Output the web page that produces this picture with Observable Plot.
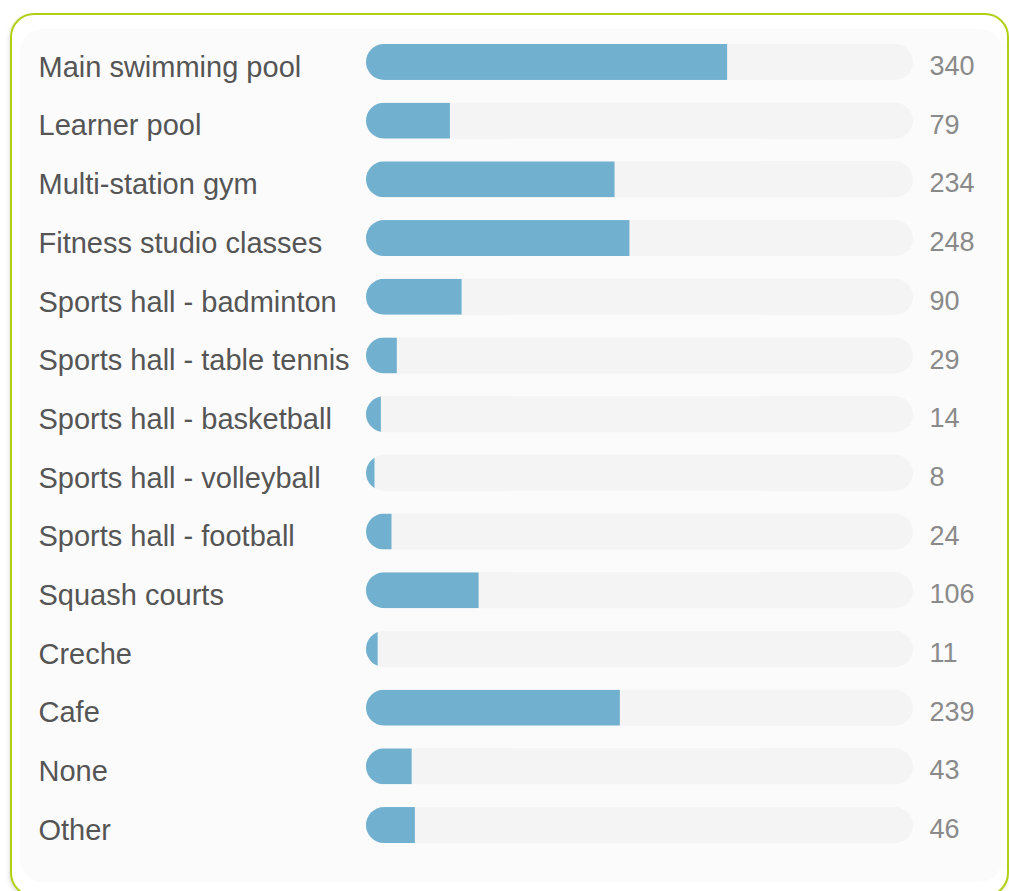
<!DOCTYPE html>
<html>
<head>
<meta charset="utf-8">
<script src="https://cdn.jsdelivr.net/npm/d3@7"></script>
<script src="https://cdn.jsdelivr.net/npm/@observablehq/plot@0.6"></script>
<style>
  html, body { margin: 0; padding: 0; background: #ffffff; }
  body { width: 1009px; height: 891px; position: relative; overflow: hidden; font-family: "Liberation Sans", Arial, Helvetica, sans-serif; }
  #card {
    position: absolute; left: 10px; top: 13px; width: 995px; height: 880px;
    border: 2.5px solid #b2d013; border-radius: 24px; background: #ffffff;
    box-shadow: -1px 2px 4px rgba(0,0,0,0.12);
  }
  #panel {
    position: absolute; left: 20px; top: 29px; width: 982px; height: 853px;
    border-radius: 22px; background: #fbfbfb;
  }
  #chart { position: absolute; left: 0; top: 0; }
</style>
</head>
<body>
<div id="card"></div>
<div id="panel"></div>
<div id="chart"></div>
<script>
const categories = [
  "Main swimming pool",
  "Learner pool",
  "Multi-station gym",
  "Fitness studio classes",
  "Sports hall - badminton",
  "Sports hall - table tennis",
  "Sports hall - basketball",
  "Sports hall - volleyball",
  "Sports hall - football",
  "Squash courts",
  "Creche",
  "Cafe",
  "None",
  "Other"
];
const values = [340, 79, 234, 248, 90, 29, 14, 8, 24, 106, 11, 239, 43, 46];
const scaleMax = 515;

const data = categories.map((c, i) => ({category: c, value: values[i], max: scaleMax}));

const FONT = "Liberation Sans, Arial, Helvetica, sans-serif";
const W = 1009, H = 891;
const chart = Plot.plot({
  width: W,
  height: H,
  marginLeft: 366,
  marginRight: 96,
  marginTop: 32.6,
  marginBottom: 36.6,
  style: {background: "transparent", fontFamily: FONT},
  x: {domain: [0, scaleMax], axis: null},
  y: {domain: categories, axis: null, paddingInner: 0.387, paddingOuter: 0.1935, round: false},
  marks: [
    Plot.barX(data, {y: "category", x1: 0, x2: "max", fill: "#f4f4f4", rx: 18, ry: 18}),
    Plot.barX(data, {y: "category", x1: 0, x2: "value", fill: "#72b0d0"}),
    Plot.text(data, {y: "category", text: "category", frameAnchor: "left", textAnchor: "start", dx: -328, dy: 5, fontSize: 29, fontFamily: FONT, fill: "#555555"}),
    Plot.text(data, {y: "category", text: d => String(d.value), frameAnchor: "right", textAnchor: "start", dx: 16, dy: 4, fontSize: 27, fontFamily: FONT, fill: "#8a8a8a"})
  ]
});
document.getElementById("chart").appendChild(chart);

// clip each value bar to the rounded shape of its track
const groups = chart.querySelectorAll('g[aria-label="bar"]');
if (groups.length >= 2) {
  const tracks = groups[0].querySelectorAll("rect");
  const bars = groups[1].querySelectorAll("rect");
  let defs = chart.querySelector("defs");
  if (!defs) { defs = document.createElementNS("http://www.w3.org/2000/svg", "defs"); chart.insertBefore(defs, chart.firstChild); }
  tracks.forEach((t, i) => {
    const cp = document.createElementNS("http://www.w3.org/2000/svg", "clipPath");
    cp.setAttribute("id", "trackclip-" + i);
    const r = t.cloneNode(true);
    r.removeAttribute("fill");
    cp.appendChild(r);
    defs.appendChild(cp);
    if (bars[i]) bars[i].setAttribute("clip-path", "url(#trackclip-" + i + ")");
  });
}
</script>
</body>
</html>
